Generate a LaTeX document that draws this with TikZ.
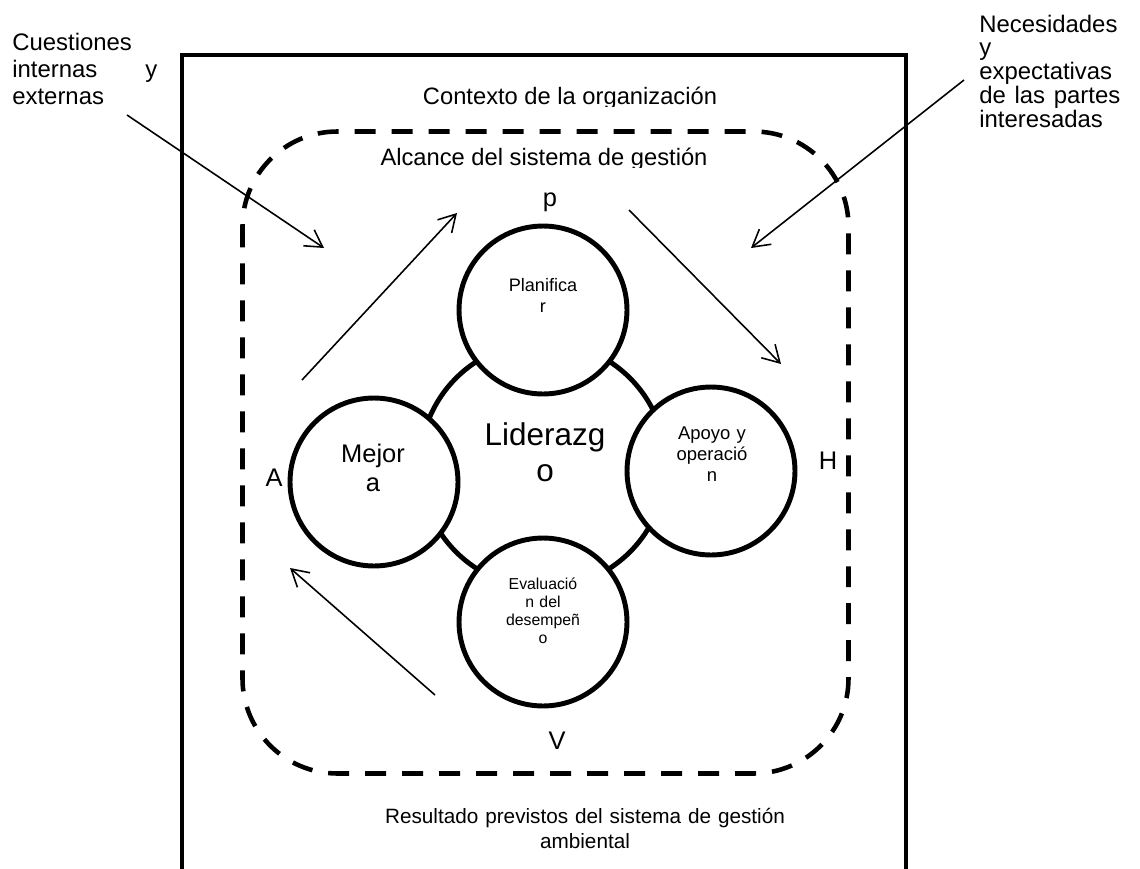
\documentclass[tikz,border=0pt]{standalone}
\usepackage{fontspec}
\setmainfont{Liberation Sans}
\usetikzlibrary{arrows.meta}
\tikzset{
  frame/.style={line width=2.3pt, line join=miter},
  dashbox/.style={line width=2.6pt, dash pattern=on 0.42cm off 0.32cm, rounded corners=1.9cm},
  bigcirc/.style={circle, draw, line width=2.8pt, minimum size=4.92cm, inner sep=0pt},
  smallcirc/.style={circle, draw, fill=white, line width=2.8pt, minimum size=3.36cm, inner sep=0pt},
  flow/.style={line width=0.9pt, -{Straight Barb[length=9.5pt,width=11pt]}},
  lbl/.style={font=\fontsize{14.5}{17}\selectfont, inner sep=0pt, anchor=base},
  txt/.style={inner sep=0pt, anchor=base},
  blocktxt/.style={inner sep=0pt, anchor=base, align=center, text width=6cm},
}
\begin{document}
\begin{tikzpicture}[x=0.02cm, y=-0.02cm]
\useasboundingbox (0,0) rectangle (1140,869);

% outer frame (open at the bottom)
\draw[frame] (182,869) -- (182,55) -- (906,55) -- (906,869);

% dashed scope box
\draw[dashbox] (242.5,131.5) rectangle (848.5,773.5);

% circles
\node[bigcirc] (lid) at (543,465) {};
\node[smallcirc] (plan) at (543,310) {};
\node[smallcirc] (mej) at (374,482) {};
\node[smallcirc] (apo) at (711,471) {};
\node[smallcirc] (eva) at (543,622) {};

% circle texts
\node[blocktxt, font=\fontsize{10.3}{12.5}\selectfont] (tplan) at (543,291) {Planifica\\r};
\node[blocktxt, font=\fontsize{14.5}{17}\selectfont] (tmej) at (373,462) {Mejor\\a};
\node[blocktxt, font=\fontsize{17.9}{21}\selectfont] (tlid) at (545,445) {Liderazg\\o};
\node[blocktxt, font=\fontsize{10.5}{12.2}\selectfont] (tapo) at (712,439) {Apoyo y\\operació\\n};
\node[blocktxt, font=\fontsize{9}{10.4}\selectfont] (teva) at (543,589) {Evaluació\\n del\\desempeñ\\o};

% PHVA labels
\node[lbl] (lp) at (550,206) {p};
\node[lbl] (la) at (274,486) {A};
\node[lbl] (lh) at (828,469) {H};
\node[lbl] (lv) at (557,749) {V};

% titles (their text boxes cut the descenders, as in the original)
\begin{scope}
  \clip (300,70) rectangle (800,106.5);
  \node[txt, font=\fontsize{13.5}{16}\selectfont] (ctx) at (570,104) {Contexto de la organización};
\end{scope}
\begin{scope}
  \clip (300,140) rectangle (800,167.5);
  \node[txt, font=\fontsize{13.5}{16}\selectfont] (alc) at (544,165) {Alcance del sistema de gestión};
\end{scope}
\node[blocktxt, text width=9cm, font=\fontsize{11.8}{14.7}\selectfont] (res) at (585,823) {Resultado previstos del sistema de gestión\\ambiental};

% side texts
\node[inner sep=0pt, anchor=base west, text width=2.9cm, align=left, font=\fontsize{13.6}{15.6}\selectfont] (cue) at (12,50) {Cuestiones\\internas\hfill y\\externas};
\node[inner sep=0pt, anchor=base west, text width=2.82cm, align=left, font=\fontsize{13.6}{13.6}\selectfont] (nec) at (979,32) {Necesidades\\y\\expectativas\\de\hfill las\hfill partes\\interesadas};

% arrows
\coordinate (inL0) at (127,115);
\coordinate (inL1) at (324,248);
\coordinate (inR0) at (964,80);
\coordinate (inR1) at (751,248);
\coordinate (ap0) at (302,380);
\coordinate (ap1) at (457,213);
\coordinate (ph0) at (629,210);
\coordinate (ph1) at (781,364);
\coordinate (va0) at (435,695);
\coordinate (va1) at (290,568);
\draw[flow] (inL0) -- (inL1);
\draw[flow] (inR0) -- (inR1);
\draw[flow] (ap0) -- (ap1);
\draw[flow] (ph0) -- (ph1);
\draw[flow] (va0) -- (va1);
\end{tikzpicture}
\end{document}
